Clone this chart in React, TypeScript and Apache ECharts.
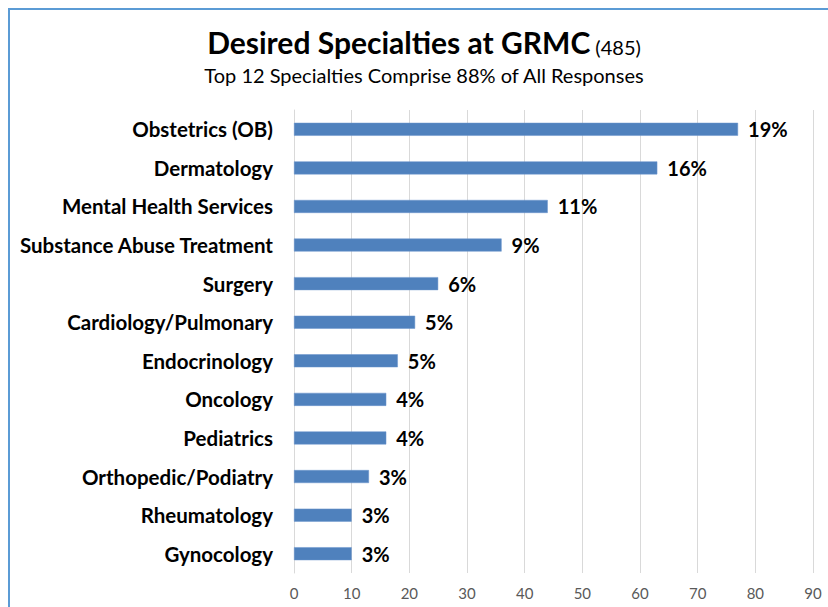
import React, { useEffect, useRef } from "react";
import * as echarts from "echarts";

const categories = [
  "Obstetrics (OB)",
  "Dermatology",
  "Mental Health Services",
  "Substance Abuse Treatment",
  "Surgery",
  "Cardiology/Pulmonary",
  "Endocrinology",
  "Oncology",
  "Pediatrics",
  "Orthopedic/Podiatry",
  "Rheumatology",
  "Gynocology",
];
const counts = [77, 63, 44, 36, 25, 21, 18, 16, 16, 13, 10, 10];
const percentLabels = ["19%", "16%", "11%", "9%", "6%", "5%", "5%", "4%", "4%", "3%", "3%", "3%"];
const xTicks = { min: 0, max: 90, interval: 10 };

const FONT = "Lato";

export default function App() {
  const ref = useRef<HTMLDivElement>(null);
  useEffect(() => {
    if (!ref.current) return;
    const chart = echarts.init(ref.current, null, { renderer: "svg" });
    const cats = [...categories].reverse();
    const vals = [...counts].reverse();
    const labs = [...percentLabels].reverse();
    chart.setOption({
      animation: false,
      backgroundColor: "#ffffff",
      graphic: [
        {
          type: "rect",
          shape: { x: 9, y: 9, width: 900, height: 700 },
          style: { fill: "none", stroke: "#5B9BD5", lineWidth: 2 },
          silent: true,
        },
        {
          type: "text",
          x: 424,
          y: 57,
          silent: true,
          style: {
            text: "{a|Desired Specialties at GRMC}{b|\u00a0(485)}",
            align: "center",
            verticalAlign: "bottom",
            rich: {
              a: { fontFamily: FONT, fontWeight: "bold", fontSize: 30, color: "#000000", verticalAlign: "bottom" },
              b: { fontFamily: FONT, fontWeight: "normal", fontSize: 20, color: "#000000", verticalAlign: "bottom" },
            },
          },
        },
        {
          type: "text",
          x: 424,
          y: 75,
          silent: true,
          style: {
            text: "Top 12 Specialties Comprise 88% of All Responses",
            align: "center",
            verticalAlign: "middle",
            fontFamily: FONT,
            fontSize: 20,
            fill: "#000000",
          },
        },
      ],
      grid: { left: 294, right: 15, top: 110, bottom: 34, containLabel: false },
      xAxis: {
        type: "value",
        min: xTicks.min,
        max: xTicks.max,
        interval: xTicks.interval,
        axisLine: { show: false },
        axisTick: { show: false },
        splitLine: { show: true, lineStyle: { color: "#D9D9D9", width: 1 } },
        axisLabel: { fontFamily: FONT, fontSize: 15, color: "#595959", margin: 12 },
      },
      yAxis: {
        type: "category",
        data: cats,
        axisLine: { show: true, lineStyle: { color: "#D9D9D9", width: 1 } },
        axisTick: { show: false },
        axisLabel: { fontFamily: FONT, fontWeight: "bold", fontSize: 20.5, color: "#000000", margin: 21 },
      },
      series: [
        {
          type: "bar",
          data: vals,
          barWidth: 13,
          itemStyle: { color: "#4F81BD", borderColor: "#6A95CC", borderWidth: 0.5 },
          label: {
            show: true,
            position: "right",
            distance: 10,
            fontFamily: FONT,
            fontWeight: "bold",
            fontSize: 20,
            color: "#000000",
            formatter: (p: any) => labs[p.dataIndex],
          },
        },
      ],
    });
    return () => chart.dispose();
  }, []);
  return (
    <div
      ref={ref}
      style={{ position: "absolute", left: 0, top: 0, width: 828, height: 607 }}
    />
  );
}
